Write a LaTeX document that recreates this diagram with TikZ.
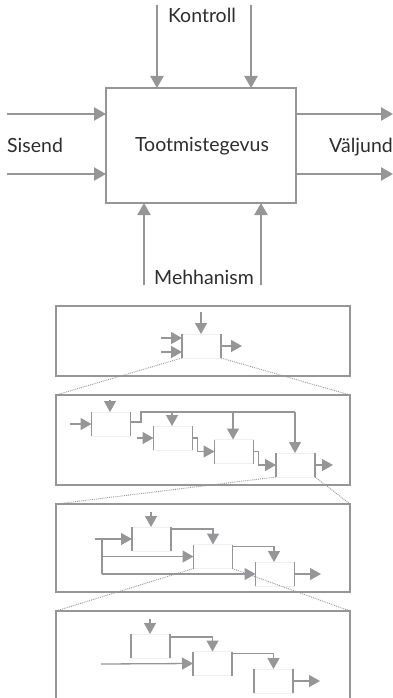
\documentclass[tikz,border=0pt]{standalone}
\usepackage{fontspec}
\setmainfont{Lato}
\usetikzlibrary{arrows.meta}

\definecolor{linegray}{RGB}{150,150,152}
\definecolor{edgegray}{RGB}{240,240,240}
\definecolor{textgray}{RGB}{45,45,45}

\tikzset{
    flow/.style={linegray, line width=2.3pt, -{Triangle[length=12pt,width=13pt]}},
    mainbox/.style={draw=linegray, line width=2.3pt, minimum width=190pt, minimum height=115pt, inner sep=0pt, outer sep=0pt},
    lbl/.style={text=textgray, font=\fontsize{19.5}{22}\selectfont, inner sep=0pt},
    panel/.style={draw=linegray, line width=2.3pt, minimum width=294pt, inner sep=0pt, outer sep=0pt},
    act/.style={draw=edgegray, line width=0.8pt, fill=white, minimum width=39pt, minimum height=24pt, inner sep=0pt, outer sep=0pt},
    side/.style={linegray, line width=1.4pt},
    link/.style={linegray, line width=1.3pt, -{Triangle[length=11pt,width=12pt]}},
    wire/.style={linegray, line width=1.3pt},
    zoomline/.style={linegray, line width=0.9pt, densely dotted}
}

\begin{document}
\begin{tikzpicture}[x=1pt, y=-1pt]
    \useasboundingbox (0,0) rectangle (393,698);

    % Draw the activity with its four arrow groups
    \node[mainbox] (main) at (201,145.5) {};
    \node[lbl] (work) at (202,146) {Tootmistegevus};

    \coordinate (k1) at (157,5);
    \coordinate (k2) at (251,5);
    \coordinate (s1) at (7,114);
    \coordinate (s2) at (7,174);
    \coordinate (v1) at (393,114);
    \coordinate (v2) at (393,174);
    \coordinate (m1) at (144,285);
    \coordinate (m2) at (261,285);

    \draw[flow] (k1) -- (k1 |- main.north);
    \draw[flow] (k2) -- (k2 |- main.north);
    \draw[flow] (s1) -- (s1 -| main.west);
    \draw[flow] (s2) -- (s2 -| main.west);
    \draw[flow] (v1 -| main.east) -- (v1);
    \draw[flow] (v2 -| main.east) -- (v2);
    \draw[flow] (m1) -- (m1 |- main.south);
    \draw[flow] (m2) -- (m2 |- main.south);

    \node[lbl, anchor=base] (kontroll) at (202,23) {Kontroll};
    \node[lbl, anchor=base west] (sisend) at (7,152) {Sisend};
    \node[lbl, anchor=base east] (valjund) at (393,152) {Väljund};
    \node[lbl, anchor=base] (mehhanism) at (204,284) {Mehhanism};

    % Draw the four panels, the last one runs off the bottom
    \node[panel, minimum height=70pt] (pan1) at (203,341) {};
    \node[panel, minimum height=90pt] (pan2) at (203,440) {};
    \node[panel, minimum height=88pt] (pan3) at (203,548) {};
    \node[panel, minimum height=119pt] (pan4) at (203,670.5) {};

    % Panel 1: one block
    \node[act] (p) at (201.5,346) {};
    \coordinate (pc) at (201,312);
    \coordinate (pi1) at (161,338);
    \coordinate (pi2) at (161,352);
    \coordinate (po) at (242,346);
    \draw[link] (pc) -- (pc |- p.north);
    \draw[link] (pi1) -- (pi1 -| p.west);
    \draw[link] (pi2) -- (pi2 -| p.west);
    \draw[link] (p.east) -- (po);

    % Panel 2: four blocks on a control bus
    \node[act] (a) at (111,424) {};
    \node[act] (b) at (173,438) {};
    \node[act] (c) at (234,451.5) {};
    \node[act] (d) at (295.5,465) {};
    \coordinate (ac) at (110,400);
    \coordinate (ai) at (70,424);
    \coordinate (bi) at (137,438);
    \coordinate (do) at (333,465);
    \draw[link] (ac) -- (ac |- a.north);
    \draw[link] (ai) -- (a.west);
    \draw[link] (bi) -- (b.west);
    \draw[wire] ([yshift=2pt]a.east) -- (141,422) -- (141,412) -- (295,412);
    \draw[link] (172,412) -- (172,412 |- b.north);
    \draw[link] (233,412) -- (233,412 |- c.north);
    \draw[link] (295,412) -- (295,412 |- d.north);
    \draw[link] (b.east) -- ++(5,0) |- (c.west);
    \draw[link] (c.east) -- ++(5,0) |- (d.west);
    \draw[link] (d.east) -- (do);

    % Panel 3: three blocks fed from one input
    \node[act] (e) at (151.5,539) {};
    \node[act] (f) at (213,556.5) {};
    \node[act] (g) at (275,574) {};
    \coordinate (ec) at (151,512);
    \coordinate (ei) at (95,539);
    \coordinate (fork) at (102,539);
    \coordinate (go) at (321,574);
    \draw[link] (ec) -- (ec |- e.north);
    \draw[link] (ei) -- (e.west);
    \draw[wire] (fork) -- (fork |- g.west);
    \draw[link] (fork |- f.west) -- (f.west);
    \draw[link] (fork |- g.west) -- (g.west);
    \draw[link] ([yshift=-2pt]e.north east) -| (f.north);
    \draw[link] ([yshift=-2pt]f.north east) -| ([xshift=-1pt]g.north);
    \draw[link] (g.east) -- (go);

    % Panel 4: three blocks, one input
    \node[act] (h) at (150.5,646) {};
    \node[act] (i) at (212.5,663.5) {};
    \node[act] (j) at (273.5,681) {};
    \coordinate (hc) at (150,619);
    \coordinate (ii) at (101,664);
    \coordinate (jo) at (320,681);
    \draw[link] (hc) -- (hc |- h.north);
    \draw[link] (ii) -- (i.west);
    \draw[link] ([yshift=-3pt]h.north east) -| (i.north);
    \draw[link] ([yshift=-2pt]i.north east) -| (j.north);
    \draw[link] (j.east) -- (jo);

    % Block sides
    \foreach \b in {p,a,b,c,d,e,f,g,h,i,j}
        \draw[side] (\b.north west) -- (\b.south west) (\b.north east) -- (\b.south east);

    % Zoom lines from a block to the next panel
    \draw[zoomline] (p.south west) -- (pan2.north west) (p.south east) -- (pan2.north east);
    \draw[zoomline] (d.south west) -- (pan3.north west) (d.south east) -- (pan3.north east);
    \draw[zoomline] (f.south west) -- (pan4.north west) (f.south east) -- (pan4.north east);
\end{tikzpicture}
\end{document}
